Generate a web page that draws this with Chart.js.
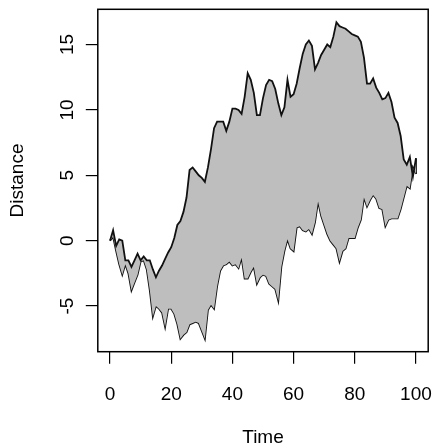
<!DOCTYPE html>
<html>
<head>
<meta charset="utf-8">
<script src="https://cdn.jsdelivr.net/npm/chart.js@4/dist/chart.umd.min.js"></script>
<style>
  html, body { margin: 0; padding: 0; background: #ffffff; }
  #wrap { width: 436px; height: 448px; }
</style>
</head>
<body>
<div id="wrap"><canvas id="c" width="436" height="448"></canvas></div>
<script>
// Two random-walk paths over time; the band between them is shaded.
const time = Array.from({ length: 101 }, (_, i) => i);

const upperPath = [
  0, 0.8, -0.4, 0.1, 0.0, -1.5, -1.5, -2.0, -1.5, -1.0,
  -1.5, -1.2, -1.5, -1.5, -2.2, -2.8, -2.3, -1.9, -1.4, -0.9,
  -0.5, 0.2, 1.2, 1.5, 2.2, 3.3, 5.4, 5.6, 5.3, 5.0,
  4.8, 4.5, 5.6, 7.0, 8.6, 9.1, 9.1, 9.1, 8.4, 9.1,
  10.1, 10.1, 10.0, 9.7, 11.0, 12.8, 12.3, 11.3, 9.6, 9.6,
  10.9, 11.9, 12.3, 12.2, 11.6, 10.5, 9.6, 10.2, 12.3, 11.0,
  11.2, 12.0, 13.2, 14.3, 15.0, 15.3, 14.9, 13.1, 13.6, 14.2,
  14.6, 15.0, 14.8, 15.6, 16.7, 16.4, 16.3, 16.2, 16.0, 15.8,
  15.7, 15.6, 15.2, 14.0, 12.0, 12.0, 12.4, 11.7, 11.3, 10.8,
  10.9, 11.3, 10.6, 9.4, 9.0, 8.0, 6.2, 5.8, 6.4, 4.9,
  6.3
];

const lowerPath = [
  0, 0.3, -0.8, -1.8, -2.6, -1.8, -2.5, -3.8, -3.2, -2.6,
  -1.6, -1.5, -2.2, -3.8, -5.8, -5.0, -5.2, -5.5, -6.6, -5.2,
  -5.2, -5.6, -6.4, -7.5, -7.2, -7.0, -6.4, -6.3, -6.2, -6.3,
  -6.9, -7.5, -5.3, -4.9, -5.2, -3.5, -2.3, -1.9, -1.8, -1.6,
  -1.9, -1.8, -2.1, -1.3, -2.9, -2.9, -2.4, -2.0, -3.3, -2.8,
  -2.6, -2.7, -3.3, -3.5, -3.7, -4.6, -2.0, -0.8, 0.1, -0.6,
  -0.8, 1.0, 1.1, 0.8, 0.7, 0.9, 0.5, 1.4, 3.0, 1.9,
  1.2, 0.5, 0.0, -0.3, -0.6, -1.6, -0.8, -0.6, 0.2, 0.2,
  0.2, 1.0, 1.6, 3.3, 2.6, 3.1, 3.5, 3.2, 2.5, 2.4,
  1.1, 1.6, 1.7, 1.7, 1.7, 2.4, 3.3, 4.2, 4.0, 5.6,
  5.1
];

const xTickValues = [0, 20, 40, 60, 80, 100];
const yTickValues = [-5, 0, 5, 10, 15];

const toPoints = (ys) => ys.map((y, i) => ({ x: time[i], y: y }));
const last = time.length - 1;

const FONT = "'Liberation Sans', Arial, sans-serif";

// keep tick labels from pushing the plotting region inward
const noOverflow = (s) => {
  s.paddingLeft = 0; s.paddingRight = 0; s.paddingTop = 0; s.paddingBottom = 0;
};

// frame around the plotting region
const frame = {
  id: 'frame',
  afterDraw(chart) {
    const a = chart.chartArea, ctx = chart.ctx;
    ctx.save();
    ctx.strokeStyle = '#000';
    ctx.lineWidth = 1.5;
    ctx.strokeRect(a.left, a.top, a.right - a.left, a.bottom - a.top);
    ctx.restore();
  }
};

new Chart(document.getElementById('c'), {
  type: 'line',
  data: {
    datasets: [
      {
        data: toPoints(upperPath),
        borderColor: '#111',
        borderWidth: 1.8,
        backgroundColor: '#bebebe',
        fill: '+1',
        pointRadius: 0,
        tension: 0
      },
      {
        data: toPoints(lowerPath),
        borderColor: '#111',
        borderWidth: 1.8,
        fill: false,
        pointRadius: 0,
        tension: 0
      },
      {
        // closing edge of the band at the last time step
        data: [{ x: time[last], y: upperPath[last] }, { x: time[last], y: lowerPath[last] }],
        borderColor: '#111',
        borderWidth: 1.8,
        fill: false,
        pointRadius: 0
      }
    ]
  },
  options: {
    responsive: false,
    animation: false,
    devicePixelRatio: 1,
    layout: { padding: { left: 0, right: 7.8, top: 9.3, bottom: 0 } },
    plugins: { legend: { display: false }, tooltip: { enabled: false } },
    scales: {
      x: {
        type: 'linear',
        min: -4,
        max: 104,
        afterBuildTicks: (s) => { s.ticks = xTickValues.map(v => ({ value: v })); },
        afterFit: (s) => { s.height = 96.3; noOverflow(s); },
        border: { display: false },
        grid: { display: true, drawOnChartArea: false, drawTicks: true, tickLength: 12, color: '#000', lineWidth: 1.2 },
        ticks: {
          autoSkip: false, maxRotation: 0, minRotation: 0, padding: 20,
          color: '#000', font: { family: FONT, size: 19 },
          callback: (v) => String(v)
        },
        title: {
          display: true, text: 'Time', color: '#000',
          font: { family: FONT, size: 19, lineHeight: 1 },
          padding: { top: 0, bottom: 0.5 }
        }
      },
      y: {
        type: 'linear',
        min: -8.49,
        max: 17.69,
        afterBuildTicks: (s) => { s.ticks = yTickValues.map(v => ({ value: v })); },
        afterFit: (s) => { s.width = 97.8; noOverflow(s); },
        border: { display: false },
        grid: { display: true, drawOnChartArea: false, drawTicks: true, tickLength: 12, color: '#000', lineWidth: 1.2 },
        ticks: {
          autoSkip: false, minRotation: 90, maxRotation: 90, crossAlign: 'center', padding: 7,
          color: '#000', font: { family: FONT, size: 19 },
          callback: (v) => String(v)
        },
        title: {
          display: true, text: 'Distance', color: '#000',
          font: { family: FONT, size: 19, lineHeight: 1 },
          padding: { top: 8, bottom: 0 }
        }
      }
    }
  },
  plugins: [frame]
});
</script>
</body>
</html>
